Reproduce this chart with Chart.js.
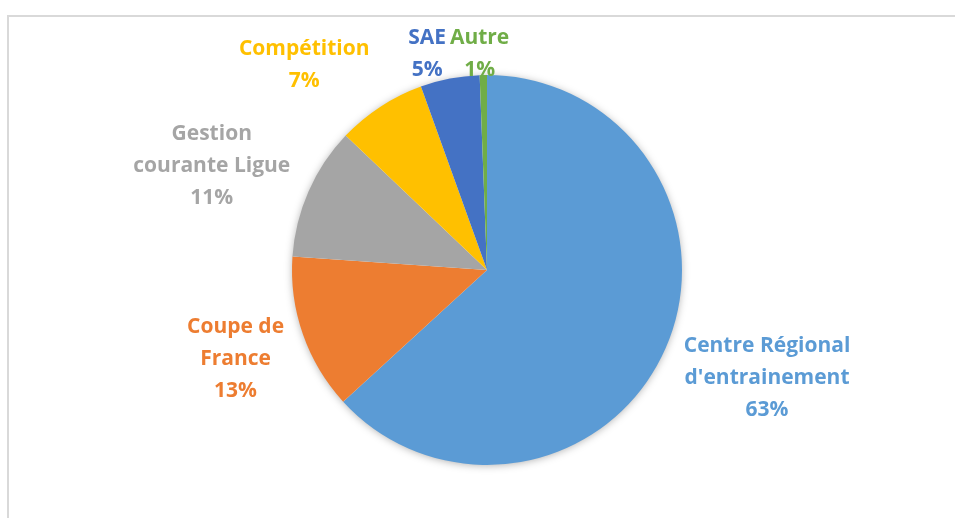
<!DOCTYPE html>
<html>
<head>
<meta charset="utf-8">
<script src="https://cdn.jsdelivr.net/npm/chart.js@4/dist/chart.umd.min.js"></script>
<style>
  html, body { margin: 0; padding: 0; background: #ffffff; }
  #wrap { width: 955px; height: 518px; position: relative; }
</style>
</head>
<body>
<div id="wrap"><canvas id="c" width="955" height="518"></canvas></div>
<script>
// ---- data ----
const categories = [
  ["Centre Régional", "d'entrainement"],
  ["Coupe de", "France"],
  ["Gestion", "courante Ligue"],
  ["Compétition"],
  ["SAE"],
  ["Autre"]
];
const shares = [63.2, 12.9, 11.0, 7.4, 4.9, 0.6];
const sliceColors = ["#5B9BD5", "#ED7D31", "#A5A5A5", "#FFC000", "#4472C4", "#70AD47"];

// ---- plugins ----
const framePlugin = {
  id: 'frame',
  beforeDraw(chart) {
    const ctx = chart.ctx;
    ctx.save();
    ctx.fillStyle = '#ffffff';
    ctx.fillRect(0, 0, chart.width, chart.height);
    ctx.strokeStyle = '#d9d9d9';
    ctx.lineWidth = 2;
    ctx.beginPath();
    ctx.moveTo(8, chart.height + 5);
    ctx.lineTo(8, 16);
    ctx.lineTo(chart.width + 5, 16);
    ctx.stroke();
    ctx.restore();
  }
};

const shadowPlugin = {
  id: 'pieShadow',
  beforeDatasetsDraw(chart) {
    const arc = chart.getDatasetMeta(0).data[0];
    if (!arc) return;
    const ctx = chart.ctx;
    ctx.save();
    ctx.shadowColor = 'rgba(0,0,0,0.35)';
    ctx.shadowBlur = 9;
    ctx.shadowOffsetX = 0;
    ctx.shadowOffsetY = 1;
    ctx.fillStyle = '#ffffff';
    ctx.beginPath();
    ctx.arc(arc.x, arc.y, arc.outerRadius - 1, 0, Math.PI * 2);
    ctx.fill();
    ctx.restore();
  }
};

const labelPlugin = {
  id: 'outLabels',
  afterDatasetsDraw(chart) {
    const ctx = chart.ctx;
    const meta = chart.getDatasetMeta(0);
    const data = chart.data.datasets[0].data;
    const total = data.reduce((a, b) => a + b, 0);
    const fontSize = 21, lineH = 32, gap = 20, minTop = 22, dropY = 2;
    ctx.save();
    ctx.font = 'bold ' + fontSize + 'px "Open Sans", Lato, sans-serif';
    ctx.textAlign = 'center';
    ctx.textBaseline = 'middle';
    meta.data.forEach((arc, i) => {
      const lines = [].concat(chart.data.labels[i]);
      lines.push(Math.round(data[i] / total * 100) + '%');
      const w = Math.max(...lines.map(l => ctx.measureText(l).width));
      const h = lines.length * lineH;
      const mid = (arc.startAngle + arc.endAngle) / 2;
      const dx = Math.cos(mid), dy = Math.sin(mid);
      const ax = arc.x + dx * (arc.outerRadius + gap);
      const ay = arc.y + dy * (arc.outerRadius + gap);
      let cx = ax + Math.sign(dx) * (w / 2) * Math.min(1, Math.abs(dx) * 6);
      let cy = ay + dy * h / 2 + dropY;
      if (cy - h / 2 < minTop) cy = minTop + h / 2;
      ctx.fillStyle = sliceColors[i];
      lines.forEach((l, k) => {
        ctx.fillText(l, cx, cy - h / 2 + lineH / 2 + k * lineH);
      });
    });
    ctx.restore();
  }
};

new Chart(document.getElementById('c'), {
  type: 'pie',
  data: {
    labels: categories,
    datasets: [{
      data: shares,
      backgroundColor: sliceColors,
      borderWidth: 0,
      hoverOffset: 0
    }]
  },
  options: {
    responsive: false,
    animation: false,
    layout: { padding: { left: 292, right: 273, top: 75, bottom: 53 } },
    plugins: {
      legend: { display: false },
      tooltip: { enabled: false }
    }
  },
  plugins: [framePlugin, shadowPlugin, labelPlugin]
});
</script>
</body>
</html>
